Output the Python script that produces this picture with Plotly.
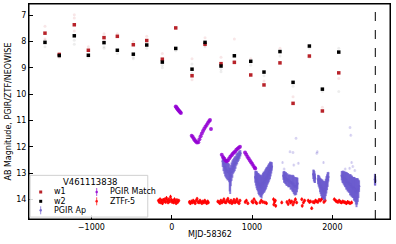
import plotly.graph_objects as go

# ---------------- data ----------------
wise_x = [-1578, -1400, -1213, -1038, -843, -677, -478, -311, -117, 50, 253,
          415, 614, 780, 984, 1149, 1348, 1511, 1714, 1876, 2080]
w1_mag = [7.68, 8.49, 7.36, 8.33, 7.85, 7.80, 8.12, 7.96, 8.67, 7.48, 9.30,
          8.10, 8.84, 8.79, 9.27, 9.65, 8.81, 10.35, 8.55, 10.64, 9.19]
w2_mag = [8.03, 8.53, 7.78, 8.52, 8.04, 8.33, 8.48, 8.13, 8.78, 8.26, 9.05,
          8.03, 8.93, 8.54, 8.75, 9.16, 8.38, 9.55, 8.17, 9.81, 8.40]

w1_single_x = [-1578, -1578, -1400, -1400, -1213, -1213, -1213, -1038, -843, -843, -677,
               -478, -311, -117, 50, 253, 253, 415, 415, 614, 780, 984, 1149, 1348,
               1511, 1714, 1876, 2080]
w1_single_y = [7.42, 7.90, 8.45, 8.60, 6.98, 7.10, 7.60, 8.20, 7.70, 8.00, 7.70,
               8.00, 7.80, 8.45, 7.45, 8.65, 9.45, 7.85, 8.15, 8.60, 7.90, 8.65, 9.50, 8.25,
               10.10, 8.60, 10.50, 9.40]
w2_single_x = [-1578, -1578, -1400, -1213, -1213, -1038, -843, -843, -677, -478, -478,
               -311, -117, -117, 50, 253, 253, 415, 614, 614, 780, 984, 1149, 1348,
               1511, 1714, 1876, 2080, 2080]
w2_single_y = [8.20, 7.95, 8.58, 7.95, 8.10, 8.60, 8.20, 8.25, 8.45, 8.60, 8.65,
               8.25, 8.90, 9.00, 8.35, 8.85, 9.20, 8.20, 9.05, 9.15, 8.75, 8.90, 9.30, 8.55,
               9.70, 8.25, 9.90, 8.25, 9.90]

pgir_match_x = [50, 58, 66, 74, 82, 90, 98, 106, 114,
                249, 262, 275, 288, 300, 315, 331, 345, 360, 375, 390, 405, 420, 435, 450, 465, 477, 489,
                623, 640, 655, 670, 685, 700, 715, 730, 745, 760, 775, 790, 805, 820, 835, 850,
                913, 928, 943, 958, 973, 988, 1003, 1018, 1033, 1040]
pgir_match_y = [10.47, 10.50, 10.54, 10.57, 10.60, 10.63, 10.66, 10.69, 10.72,
                11.58, 11.63, 11.70, 11.75, 11.80, 11.84, 11.83, 11.72, 11.60, 11.50, 11.40, 11.32,
                11.24, 11.17, 11.10, 11.03, 10.98, 11.33,
                12.31, 12.40, 12.46, 12.52, 12.55, 12.52, 12.45, 12.38, 12.32, 12.27, 12.22, 12.18,
                12.12, 12.08, 12.04, 12.00,
                12.22, 12.30, 12.38, 12.45, 12.52, 12.59, 12.66, 12.73, 12.80, 12.83]
pgir_match_err = [0.05] * len(pgir_match_x)

pgir_ap_x = [635, 645, 655, 665, 675, 685, 695, 705, 715, 722, 728, 735, 745, 755, 765, 775, 785,
             795, 805, 815, 825, 835, 845, 855,
             1040, 1048, 1056, 1064, 1072, 1080, 1088, 1096, 1104, 1112, 1120, 1128, 1136, 1144,
             1152, 1160, 1168, 1176, 1184, 1192, 1200, 1208, 1216, 1224, 1232, 1240, 1246,
             1390, 1398, 1406, 1414, 1422, 1430, 1440, 1450, 1460, 1470, 1480, 1490, 1500, 1510,
             1520, 1530, 1540, 1550, 1560, 1566,
             1763, 1770, 1777, 1784,
             1822, 1830, 1838, 1846, 1854, 1862, 1870, 1878, 1886, 1894, 1902, 1910, 1918, 1926,
             1934, 1942, 1950,
             2117, 2125, 2133, 2141, 2149, 2157, 2165, 2173, 2181, 2189, 2197, 2205, 2213, 2221,
             2229, 2237, 2245, 2253, 2261, 2269, 2277, 2285, 2293, 2301, 2309, 2317, 2325, 2333,
             2530, 2534]
pgir_ap_y = [12.55, 12.65, 12.75, 12.80, 12.85, 12.90, 12.95, 12.95, 13.00, 13.25, 13.30, 13.10,
             12.95, 12.85, 12.75, 12.70, 12.65, 12.60, 12.50, 12.45, 12.40, 12.35, 12.30, 12.25,
             13.15, 13.20, 13.25, 13.30, 13.35, 13.40, 13.45, 13.45, 13.50, 13.50, 13.55, 13.45,
             13.40, 13.35, 13.35, 13.30, 13.25, 13.20, 13.15, 13.10, 13.05, 13.00, 12.95, 12.90,
             12.85, 12.80, 12.75,
             13.10, 13.15, 13.15, 13.20, 13.20, 13.25, 13.25, 13.30, 13.30, 13.30, 13.35, 13.35,
             13.40, 13.40, 13.45, 13.50, 13.50, 13.50, 13.45, 13.40,
             13.05, 13.10, 13.15, 13.20,
             13.25, 13.30, 13.35, 13.45, 13.50, 13.55, 13.60, 13.60, 13.65, 13.65, 13.70, 13.65,
             13.55, 13.45, 13.35, 13.25, 13.15,
             13.10, 13.15, 13.15, 13.20, 13.20, 13.25, 13.25, 13.30, 13.30, 13.35, 13.35, 13.40,
             13.40, 13.45, 13.45, 13.50, 13.50, 13.55, 13.55, 13.60, 13.60, 13.65, 13.70, 13.75,
             13.70, 13.65, 13.60, 13.50,
             13.25, 13.30]
pgir_ap_err = [0.22, 0.28, 0.28, 0.33, 0.33, 0.33, 0.33, 0.33, 0.35, 0.45, 0.50, 0.40, 0.35, 0.33,
               0.28, 0.28, 0.28, 0.24, 0.22, 0.22, 0.18, 0.18, 0.16, 0.12,
               0.22, 0.28, 0.33, 0.35, 0.35, 0.40, 0.40, 0.40, 0.42, 0.42, 0.42, 0.40, 0.40, 0.40,
               0.40, 0.40, 0.40, 0.40, 0.38, 0.35, 0.35, 0.35, 0.33, 0.33, 0.28, 0.22, 0.16,
               0.16, 0.22, 0.22, 0.22, 0.24, 0.24, 0.24, 0.24, 0.24, 0.24, 0.28, 0.28, 0.30, 0.33,
               0.35, 0.35, 0.35, 0.33, 0.28, 0.22,
               0.18, 0.22, 0.22, 0.18,
               0.18, 0.22, 0.24, 0.28, 0.30, 0.33, 0.35, 0.35, 0.35, 0.35, 0.35, 0.35, 0.33, 0.33,
               0.30, 0.28, 0.18,
               0.18, 0.22, 0.24, 0.24, 0.28, 0.28, 0.30, 0.33, 0.33, 0.35, 0.35, 0.35, 0.35, 0.40,
               0.40, 0.40, 0.40, 0.40, 0.40, 0.45, 0.45, 0.45, 0.50, 0.55, 0.50, 0.45, 0.35, 0.22,
               0.22, 0.18]

pgir_faint_x = [1380, 1400, 1473, 1510, 1520, 1548, 1577, 1806, 1813, 1890, 1950,
                2160, 2215, 2220, 2230, 2240, 2255, 2280]
pgir_faint_y = [12.60, 12.85, 12.19, 12.22, 12.70, 11.68, 12.63, 12.25, 12.19, 12.60, 13.00,
                12.85, 12.82, 11.27, 11.56, 12.60, 12.75, 12.90]

ztf_x = [-165, -155, -145, -135, -125, -115, -105, -95, -85, -75, -65, -55, -45, -35, -25, -15,
         -5, 5, 15, 25, 35, 45, 55, 65, 75, 88,
         220, 232, 244, 256, 268, 280, 292, 304, 316, 328, 340, 352, 364, 376, 388, 400, 412,
         424, 436, 448, 456,
         575, 588, 600, 612, 625, 638, 650, 662, 675, 688, 700, 712, 725, 738, 750, 762, 775,
         788, 800, 812, 825, 838, 850,
         915, 930, 948, 1000, 1012, 1025, 1045, 1058, 1100, 1115, 1135, 1160, 1180,
         1268, 1272, 1280, 1290, 1295, 1370,
         1435, 1450, 1465, 1480, 1495, 1510, 1525, 1540, 1556,
         1620, 1625, 1640, 1655,
         1700, 1715, 1730, 1743, 1760, 1775, 1790, 1805, 1820, 1835, 1850, 1865, 1880, 1895, 1910,
         2025, 2040, 2055, 2070, 2085, 2100, 2115, 2130, 2145, 2160, 2175, 2190, 2205, 2220, 2240]
ztf_y = [14.05, 14.10, 14.00, 14.12, 14.05, 14.15, 14.02, 14.08, 14.00, 14.10, 13.95, 14.05,
         14.12, 14.00, 14.08, 13.90, 14.02, 14.10, 14.05, 14.12, 14.00, 14.08, 14.15, 14.03,
         14.10, 14.05,
         14.10, 14.15, 14.08, 14.12, 14.05, 14.10, 14.15, 14.05, 13.98, 14.10, 14.12, 14.05,
         14.10, 14.15, 14.08, 14.12, 14.05, 14.10, 14.15, 14.08, 14.12,
         14.08, 14.10, 14.15, 14.05, 14.12, 14.08, 14.00, 14.10, 14.12, 14.05, 13.98, 14.08,
         14.12, 14.05, 14.15, 14.10, 14.02, 14.12, 14.08, 14.00, 14.10, 14.15, 14.05,
         14.10, 14.05, 14.15, 14.08, 14.12, 14.00, 14.10, 14.15, 14.12, 14.05, 14.10, 14.12, 14.15,
         14.00, 14.20, 14.10, 14.05, 14.25, 14.12,
         14.10, 14.18, 14.05, 14.12, 14.08, 14.20, 14.10, 14.00, 14.12,
         14.00, 14.25, 14.12, 14.05,
         14.05, 14.10, 14.08, 14.34, 14.10, 14.12, 14.05, 14.08, 14.10, 14.02, 14.05, 14.00,
         13.95, 14.10, 14.05,
         14.00, 14.05, 14.08, 14.10, 14.05, 14.10, 14.12, 14.08, 14.10, 14.12, 14.15, 14.10,
         14.12, 14.15, 14.12]

ref_mjd = 2535
x_range = [-1777, 2718]
y_range = [14.75, 6.57]
x_ticks = [-1000, 0, 1000, 2000]
y_ticks = [7, 8, 9, 10, 11, 12, 13, 14]

legend_title = "V461113838"
legend_labels = ["w1", "w2", "PGIR Ap", "PGIR Match", "ZTFr-5"]
x_title = "MJD-58362"
y_title = "AB Magnitude, PGIR/ZTF/NEOWISE"

# ---------------- colours ----------------
C_W1 = "#b8232a"
C_W2 = "#000000"
C_AP = "#6a5acd"
C_MATCH = "#9400d3"
C_ZTF = "#ff0000"
FONT = "DejaVu Sans"

fig = go.Figure()

fig.add_trace(go.Scatter(x=w1_single_x, y=w1_single_y, mode="markers",
                         marker=dict(size=3, color="rgba(200,60,70,0.13)"), showlegend=False))
fig.add_trace(go.Scatter(x=w2_single_x, y=w2_single_y, mode="markers",
                         marker=dict(size=3, color="rgba(0,0,0,0.07)"), showlegend=False))

fig.add_trace(go.Scatter(x=ztf_x, y=ztf_y, mode="markers",
                         marker=dict(size=3, color=C_ZTF, opacity=0.85),
                         error_y=dict(type="constant", value=0.07, thickness=1, width=0, color=C_ZTF),
                         showlegend=False))
fig.add_trace(go.Scatter(x=pgir_faint_x, y=pgir_faint_y, mode="markers",
                         marker=dict(size=3, color="rgba(106,90,205,0.18)"),
                         error_y=dict(type="constant", value=0.05, thickness=1, width=0,
                                      color="rgba(106,90,205,0.18)"),
                         showlegend=False))
fig.add_trace(go.Scatter(x=pgir_ap_x, y=pgir_ap_y, mode="markers",
                         marker=dict(size=2.5, color=C_AP, opacity=0.8),
                         error_y=dict(type="data", array=pgir_ap_err, thickness=2, width=0,
                                      color="rgba(106,90,205,0.75)"),
                         showlegend=False))
fig.add_trace(go.Scatter(x=pgir_match_x, y=pgir_match_y, mode="markers",
                         marker=dict(size=4, color=C_MATCH, opacity=0.8),
                         error_y=dict(type="data", array=pgir_match_err, thickness=1, width=0,
                                      color="rgba(148,0,211,0.6)"),
                         showlegend=False))

fig.add_trace(go.Scatter(x=wise_x, y=w1_mag, mode="markers",
                         marker=dict(size=3.5, symbol="square", color=C_W1), showlegend=False))
fig.add_trace(go.Scatter(x=wise_x, y=w2_mag, mode="markers",
                         marker=dict(size=3.5, symbol="square", color=C_W2), showlegend=False))

# dashed reference line
fig.add_shape(type="line", xref="x", yref="paper", x0=ref_mjd, x1=ref_mjd, y0=0, y1=1,
              line=dict(color="black", width=1, dash="dash"))

# plot frame
fig.add_shape(type="rect", xref="paper", yref="paper", x0=0, x1=1, y0=0, y1=1,
              line=dict(color="black", width=1), fillcolor="rgba(0,0,0,0)", layer="above")

# ---------------- manual legend ----------------
fig.add_shape(type="rect", xref="paper", yref="paper", x0=0.003, x1=0.329, y0=0.009, y1=0.203,
              line=dict(color="#d0d0d0", width=1), fillcolor="rgba(255,255,255,0.85)", layer="above")
fig.add_annotation(x=0.169, y=0.172, xref="paper", yref="paper", text=legend_title,
                   showarrow=False, font=dict(family=FONT, size=8.5, color="black"),
                   xanchor="center", yanchor="middle")

col1_x, col2_x = 0.0324, 0.1875
text1_x, text2_x = 0.0637, 0.2188
rows = [0.1256, 0.0823, 0.0405]
entries = [
    (col1_x, text1_x, rows[0], legend_labels[0], C_W1, "square"),
    (col1_x, text1_x, rows[1], legend_labels[1], C_W2, "square"),
    (col1_x, text1_x, rows[2], legend_labels[2], C_AP, "err"),
    (col2_x, text2_x, rows[0], legend_labels[3], C_MATCH, "err"),
    (col2_x, text2_x, rows[1], legend_labels[4], C_ZTF, "err"),
]
for mx, tx, ry, lab, col, kind in entries:
    if kind == "square":
        fig.add_shape(type="rect", xref="paper", yref="paper", xsizemode="pixel", ysizemode="pixel",
                      xanchor=mx, yanchor=ry, x0=-1.5, x1=1.5, y0=-1.5, y1=1.5,
                      line=dict(width=0), fillcolor=col, layer="above")
    else:
        fig.add_shape(type="line", xref="paper", yref="paper", xsizemode="pixel", ysizemode="pixel",
                      xanchor=mx, yanchor=ry, x0=0, x1=0, y0=-4, y1=4,
                      line=dict(color=col, width=1), opacity=0.7, layer="above")
        fig.add_shape(type="circle", xref="paper", yref="paper", xsizemode="pixel", ysizemode="pixel",
                      xanchor=mx, yanchor=ry, x0=-1.3, x1=1.3, y0=-1.3, y1=1.3,
                      line=dict(width=0), fillcolor=col, opacity=0.8, layer="above")
    fig.add_annotation(x=tx, y=ry, xref="paper", yref="paper", text=lab, showarrow=False,
                       font=dict(family=FONT, size=8, color="black"), xanchor="left", yanchor="middle")

# axis titles
fig.add_annotation(x=-0.058, y=0.5, xref="paper", yref="paper", text=y_title, textangle=-90,
                   showarrow=False, font=dict(family=FONT, size=8, color="black"),
                   xanchor="center", yanchor="middle")
fig.add_annotation(x=0.5, y=-0.074, xref="paper", yref="paper", text=x_title,
                   showarrow=False, font=dict(family=FONT, size=8, color="black"),
                   xanchor="center", yanchor="middle")

axis_common = dict(showline=True, linecolor="black", linewidth=1, mirror=True,
                   ticks="inside", ticklen=4, tickwidth=1, tickcolor="black",
                   showgrid=False, zeroline=False, automargin=False,
                   tickfont=dict(family=FONT, size=8, color="black"))

fig.update_xaxes(range=x_range, tickvals=x_ticks, **axis_common)
fig.update_yaxes(range=y_range, tickvals=y_ticks, **axis_common)

fig.update_layout(width=396, height=244, margin=dict(l=29, r=6, t=4, b=25, autoexpand=False),
                  plot_bgcolor="white", paper_bgcolor="white", showlegend=False,
                  font=dict(family=FONT, size=8))

fig.write_html("out.html", config={"displayModeBar": False},
               post_script="document.body.style.margin='0';document.body.style.overflow='hidden';")
